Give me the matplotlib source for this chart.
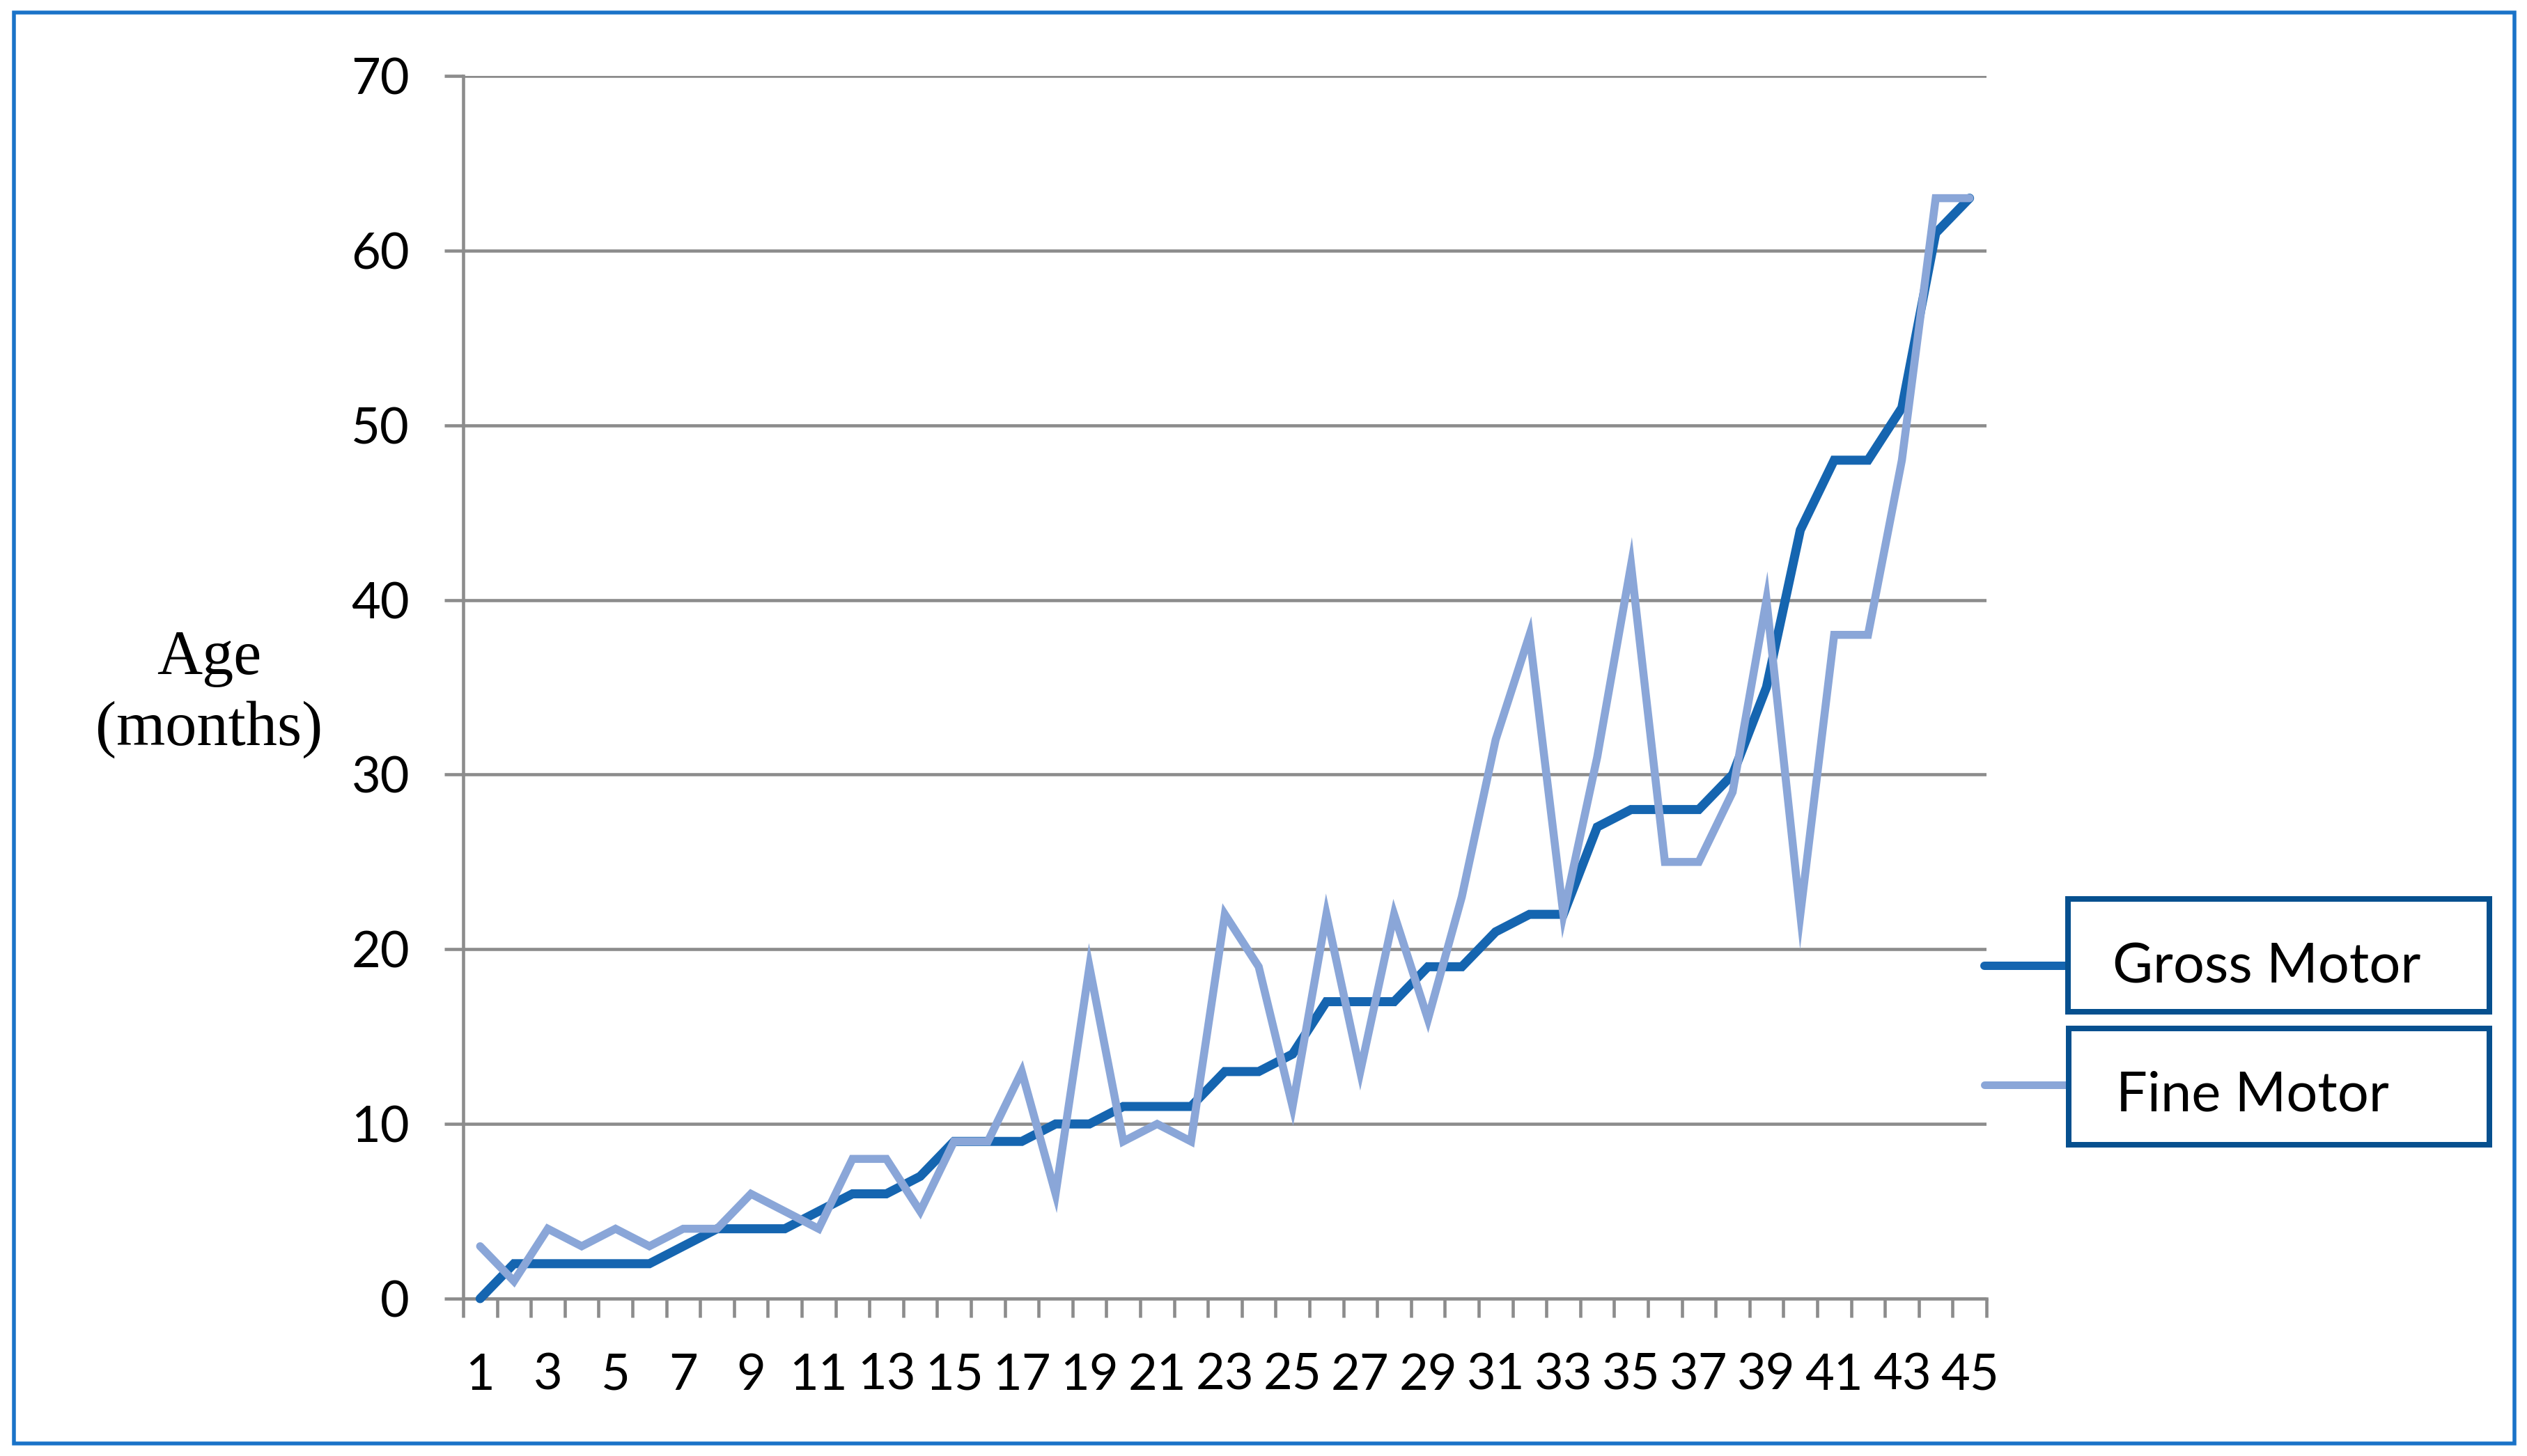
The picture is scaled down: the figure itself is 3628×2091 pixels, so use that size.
import matplotlib
matplotlib.use("Agg")
import matplotlib.pyplot as plt
from matplotlib.patches import Rectangle
from matplotlib.lines import Line2D
from matplotlib.ticker import FixedLocator, NullFormatter

# ---- data ----
items = list(range(1, 46))
gross_motor = [0, 2, 2, 2, 2, 2, 3, 4, 4, 4, 5, 6, 6, 7, 9, 9, 9, 10, 10, 11,
               11, 11, 13, 13, 14, 17, 17, 17, 19, 19, 21, 22, 22, 27, 28, 28, 28,
               30, 35, 44, 48, 48, 51, 61, 63]
fine_motor = [3, 1, 4, 3, 4, 3, 4, 4, 6, 5, 4, 8, 8, 5, 9, 9, 13, 6, 19, 9,
              10, 9, 22, 19, 11, 22, 13, 22, 16, 23, 32, 38, 22, 31, 42, 25, 25,
              29, 40, 22, 38, 38, 48, 63, 63]
x_labels = [str(i) for i in items[::2]]
y_ticks = [0, 10, 20, 30, 40, 50, 60, 70]
series_names = ["Gross Motor", "Fine Motor"]

# ---- style ----
W, H = 3628, 2091
DPI = 200
PX = 72.0 / DPI  # points per pixel
GROSS_C = "#1565B0"
FINE_C = "#8AA6D8"
GRID_C = "#8C8C8C"
BORDER_C = "#1A73C8"
LEG_C = "#06508F"
SANS = ["Lato", "DejaVu Sans"]
SERIF = ["Liberation Serif", "DejaVu Serif"]

fig = plt.figure(figsize=(W / DPI, H / DPI), dpi=DPI)
fig.patch.set_facecolor("white")


def fx(x):
    return x / W


def fy(y):
    return 1 - y / H


ax_l, ax_r, ax_t, ax_b = 665, 2852, 109, 1865
ax = fig.add_axes([fx(ax_l), fy(ax_b), (ax_r - ax_l) / W, (ax_b - ax_t) / H])

ax.plot(items, gross_motor, color=GROSS_C, lw=13 * PX, solid_capstyle="round",
        solid_joinstyle="miter", clip_on=False, zorder=3, label=series_names[0])
ax.plot(items, fine_motor, color=FINE_C, lw=11.5 * PX, solid_capstyle="round",
        solid_joinstyle="miter", clip_on=False, zorder=4, label=series_names[1])

ax.set_xlim(0.5, 45.5)
ax.set_ylim(0, 70)

# y axis
ax.set_yticks(y_ticks)
ax.set_yticklabels([str(v) for v in y_ticks])
ax.yaxis.grid(True, color=GRID_C, lw=4.6 * PX)
ax.set_axisbelow(True)
ax.tick_params(axis="y", length=27 * PX, width=4.6 * PX, color=GRID_C,
               labelsize=26, pad=18, labelcolor="black")

# x axis: labels at odd items, tick marks at boundaries
ax.set_xticks(items[::2])
ax.set_xticklabels(x_labels)
ax.tick_params(axis="x", which="major", length=0, labelsize=26, pad=28,
               labelcolor="black")
ax.xaxis.set_minor_locator(FixedLocator([i + 0.5 for i in range(0, 46)]))
ax.xaxis.set_minor_formatter(NullFormatter())
ax.tick_params(axis="x", which="minor", length=27 * PX, width=4.6 * PX,
               color=GRID_C)

for lab in ax.get_xticklabels() + ax.get_yticklabels():
    lab.set_fontfamily(SANS)

for s in ["top", "right"]:
    ax.spines[s].set_visible(False)
for s in ["left", "bottom"]:
    ax.spines[s].set_color(GRID_C)
    ax.spines[s].set_linewidth(4.6 * PX)

ax.set_ylabel("Age\n(months)", rotation=0, fontsize=32.5, family=SERIF,
              ha="center", va="center", linespacing=1.3)
ax.yaxis.set_label_coords((300 - ax_l) / (ax_r - ax_l), (ax_b - 997) / (ax_b - ax_t))

# ---- legend (separate framed boxes with outside line stubs) ----
leg_boxes = [(2969, 1291, 3574, 1453, 1387, 3033, 1412, GROSS_C, 12),
             (2970, 1477, 3574, 1644, 1558, 3038, 1595, FINE_C, 11)]
for name, (x0, y0, x1, y1, ys, tx, tby, col, lw) in zip(series_names, leg_boxes):
    fig.add_artist(Rectangle((fx(x0), fy(y1)), (x1 - x0) / W, (y1 - y0) / H,
                             transform=fig.transFigure, fill=True, facecolor="white",
                             edgecolor=LEG_C, lw=8 * PX, zorder=5))
    fig.add_artist(Line2D([fx(2849), fx(x0 - 4)], [fy(ys), fy(ys)],
                          transform=fig.transFigure, color=col, lw=lw * PX,
                          solid_capstyle="round", zorder=4))
    fig.text(fx(tx), fy(tby), name, fontsize=28.6, family=SANS, ha="left",
             va="baseline", color="black", zorder=6)

# ---- outer border ----
fig.add_artist(Rectangle((fx(20), fy(2073)), (3610 - 20) / W, (2073 - 17.5) / H,
                         transform=fig.transFigure, fill=False,
                         edgecolor=BORDER_C, lw=5.5 * PX, zorder=10))

fig.savefig("out.png", dpi=DPI, facecolor="white")
